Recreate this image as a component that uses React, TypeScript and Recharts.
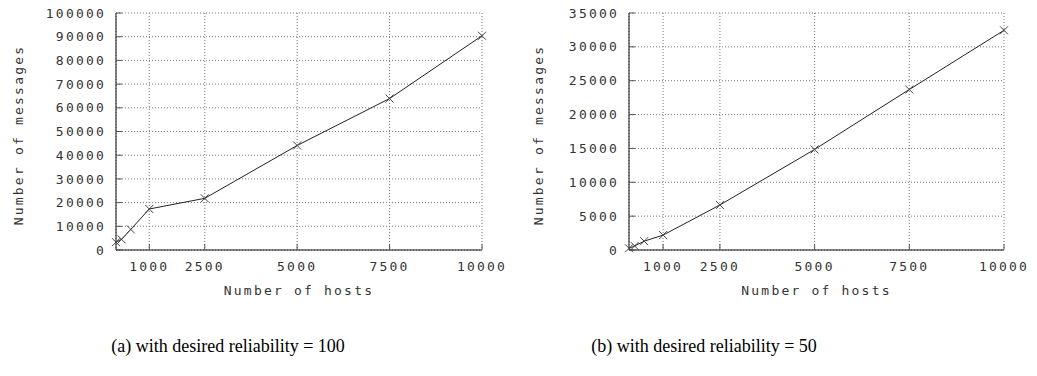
import { LineChart, Line, XAxis, YAxis, CartesianGrid } from "recharts";

// x values shared by both runs
const hosts = [100, 250, 500, 1000, 2500, 5000, 7500, 10000];
// messages sent, desired reliability = 100
const messagesRel100 = [3300, 4500, 8700, 17300, 21800, 44100, 63900, 90400];
// messages sent, desired reliability = 50
const messagesRel50 = [250, 600, 1300, 2200, 6650, 14850, 23700, 32450];

const hostTicks = [1000, 2500, 5000, 7500, 10000];
const ticksRel100 = [0, 10000, 20000, 30000, 40000, 50000, 60000, 70000, 80000, 90000, 100000];
const ticksRel50 = [0, 5000, 10000, 15000, 20000, 25000, 30000, 35000];

const dataRel100 = hosts.map((h, i) => ({ hosts: h, messages: messagesRel100[i] }));
const dataRel50 = hosts.map((h, i) => ({ hosts: h, messages: messagesRel50[i] }));

const monoFont = {
  fontFamily: "'DejaVu Sans Mono', monospace",
  fontSize: 13,
  letterSpacing: "2.2px",
  color: "#333",
};

// gnuplot style "x" point
const Cross = (props: any) => {
  const { cx, cy } = props;
  if (cx == null || cy == null) return <g />;
  const s = 4;
  return (
    <g stroke="#444" strokeWidth={1}>
      <line x1={cx - s} y1={cy - s} x2={cx + s} y2={cy + s} />
      <line x1={cx - s} y1={cy + s} x2={cx + s} y2={cy - s} />
    </g>
  );
};

interface PanelProps {
  data: { hosts: number; messages: number }[];
  yTicks: number[];
  left: number;
  width: number;
  yAxisWidth: number;
  rightMargin: number;
}

function Panel({ data, yTicks, left, width, yAxisWidth, rightMargin }: PanelProps) {
  const yMax = yTicks[yTicks.length - 1];
  return (
    <div style={{ position: "absolute", left, top: 0, ...monoFont }}>
      <LineChart
        width={width}
        height={300}
        data={data}
        margin={{ top: 13, right: rightMargin, bottom: 0, left: 0 }}
      >
        <CartesianGrid stroke="#777" strokeDasharray="1 2" />
        <XAxis
          dataKey="hosts"
          type="number"
          domain={[100, 10000]}
          ticks={hostTicks}
          interval={0}
          height={50}
          tickSize={-6}
          tickMargin={18}
          axisLine={{ stroke: "#111" }}
          tickLine={{ stroke: "#555" }}
          tick={{ fill: "#333" }}
          label={{ value: "Number of hosts", position: "insideBottom", offset: 5, fill: "#333" }}
        />
        <XAxis
          xAxisId="top"
          orientation="top"
          dataKey="hosts"
          type="number"
          domain={[100, 10000]}
          ticks={hostTicks}
          interval={0}
          height={0}
          tickSize={-6}
          axisLine={{ stroke: "#111" }}
          tickLine={{ stroke: "#555" }}
          tick={false}
        />
        <YAxis
          type="number"
          domain={[0, yMax]}
          ticks={yTicks}
          interval={0}
          width={yAxisWidth}
          tickSize={-6}
          tickMargin={16}
          axisLine={{ stroke: "#111" }}
          tickLine={{ stroke: "#555" }}
          tick={{ fill: "#333" }}
        />
        <YAxis
          yAxisId="right"
          orientation="right"
          type="number"
          domain={[0, yMax]}
          ticks={yTicks}
          interval={0}
          width={0}
          tickSize={-6}
          axisLine={{ stroke: "#111" }}
          tickLine={{ stroke: "#555" }}
          tick={false}
        />
        <Line
          dataKey="messages"
          type="linear"
          stroke="#222"
          strokeWidth={1}
          dot={<Cross />}
          activeDot={false}
          isAnimationActive={false}
        />
      </LineChart>
    </div>
  );
}

function YTitle({ x }: { x: number }) {
  return (
    <div
      style={{
        position: "absolute",
        left: x,
        top: 135,
        transform: "translate(-50%, -50%) rotate(-90deg)",
        whiteSpace: "nowrap",
        ...monoFont,
      }}
    >
      Number of messages
    </div>
  );
}

function Caption({ center, text }: { center: number; text: string }) {
  return (
    <div
      style={{
        position: "absolute",
        left: center - 200,
        width: 400,
        top: 336,
        textAlign: "center",
        fontFamily: "'Liberation Serif', serif",
        fontSize: 18,
        color: "#000",
        whiteSpace: "nowrap",
      }}
    >
      {text}
    </div>
  );
}

export default function App() {
  return (
    <div
      style={{
        position: "absolute",
        left: 0,
        top: 0,
        width: 1037,
        height: 376,
        background: "#fff",
        overflow: "hidden",
      }}
    >
      <Panel data={dataRel100} yTicks={ticksRel100} left={0} width={510} yAxisWidth={116} rightMargin={28} />
      <Panel data={dataRel50} yTicks={ticksRel50} left={520} width={517} yAxisWidth={109} rightMargin={33} />
      <YTitle x={18} />
      <YTitle x={538} />
      <Caption center={228} text="(a) with desired reliability = 100" />
      <Caption center={704} text="(b) with desired reliability = 50" />
    </div>
  );
}
